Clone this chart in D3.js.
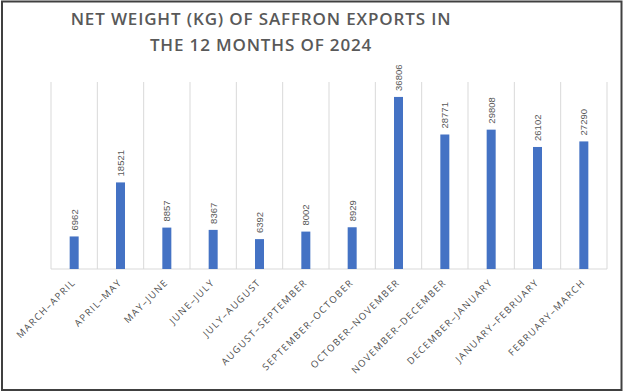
<!DOCTYPE html>
<html><head><meta charset="utf-8">
<script src="https://cdn.jsdelivr.net/npm/d3@7"></script>
<style>body{margin:0;background:#fff}svg{display:block}</style>
</head><body><svg id="c" width="624" height="392"></svg>
<script>
const categories = ["MARCH–APRIL","APRIL–MAY","MAY–JUNE","JUNE–JULY","JULY–AUGUST","AUGUST–SEPTEMBER","SEPTEMBER–OCTOBER","OCTOBER–NOVEMBER","NOVEMBER–DECEMBER","DECEMBER–JANUARY","JANUARY–FEBRUARY","FEBRUARY–MARCH"];
const values = [6962,18521,8857,8367,6392,8002,8929,36806,28771,29808,26102,27290];
const titleLines = ["NET WEIGHT (KG) OF SAFFRON EXPORTS IN","THE 12 MONTHS OF 2024"];

const svg = d3.select("#c");
svg.append("rect").attr("x",2).attr("y",1.5).attr("width",619.5).attr("height",388.5)
  .attr("fill","#fff").attr("stroke","#404040").attr("stroke-width",2);

const x = d3.scaleBand().domain(categories).range([51,607]).paddingInner(0).paddingOuter(0);
const y = d3.scaleLinear().domain([0,40000]).range([269,82]);
const barW = 9;

const g = svg.append("g");
const bounds = categories.map(c=>x(c)).concat([x.range()[1]]);
g.selectAll("line.grid").data(bounds).join("line")
  .attr("x1",d=>d).attr("x2",d=>d).attr("y1",y(40000)).attr("y2",y(0))
  .attr("stroke","#d9d9d9").attr("stroke-width",1);
g.append("line").attr("x1",51).attr("x2",607).attr("y1",y(0)).attr("y2",y(0))
  .attr("stroke","#d9d9d9").attr("stroke-width",1);

g.selectAll("rect.bar").data(values).join("rect")
  .attr("x",(d,i)=>x(categories[i])+x.bandwidth()/2-barW/2)
  .attr("width",barW)
  .attr("y",d=>y(d)).attr("height",d=>y(0)-y(d))
  .attr("fill","#4472C4");

g.selectAll("text.val").data(values).join("text")
  .attr("transform",(d,i)=>`translate(${x(categories[i])+x.bandwidth()/2+3.5},${y(d)-6}) rotate(-90)`)
  .attr("font-family","Liberation Sans, Arial, sans-serif").attr("font-size",9.5)
  .attr("fill","#595959").text(d=>d);

g.selectAll("text.cat").data(categories).join("text")
  .attr("transform",d=>`translate(${x(d)+x.bandwidth()/2+2},${y(0)+14}) rotate(-45)`)
  .attr("text-anchor","end")
  .attr("font-family","Open Sans, sans-serif").attr("font-size",9.5)
  .attr("letter-spacing",1.4)
  .attr("fill","#4d4d4d").text(d=>d);

svg.selectAll("text.title").data(titleLines).join("text")
  .attr("x",261).attr("y",(d,i)=>25+i*26)
  .attr("text-anchor","middle")
  .attr("font-family","Open Sans, sans-serif").attr("font-weight",600).attr("font-size",17)
  .attr("letter-spacing",0.85)
  .attr("fill","#595959").text(d=>d);
</script></body></html>
